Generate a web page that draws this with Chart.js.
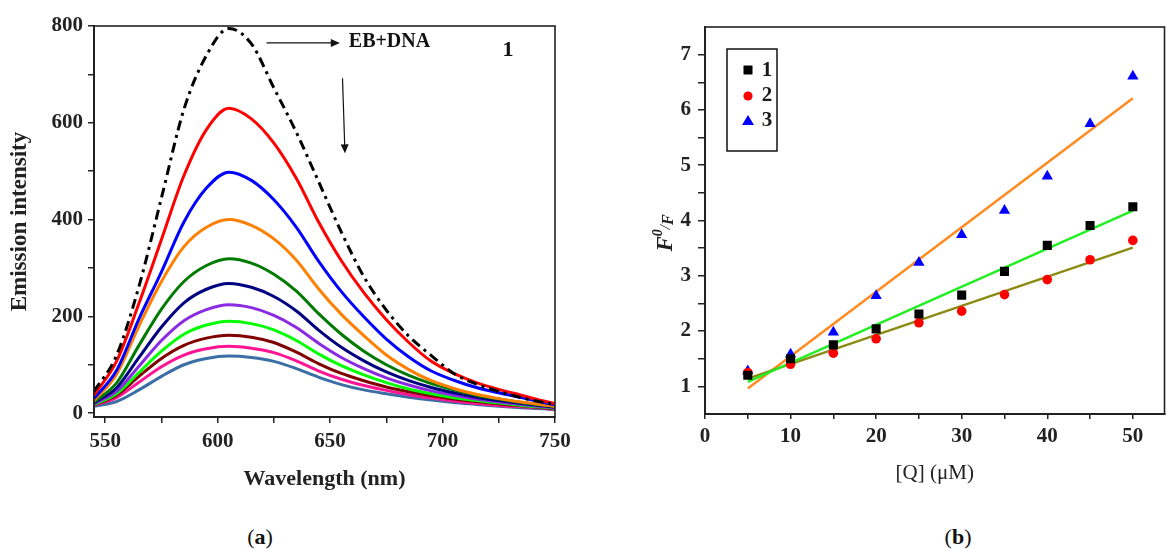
<!DOCTYPE html>
<html>
<head>
<meta charset="utf-8">
<script src="https://cdn.jsdelivr.net/npm/chart.js@4.4.1/dist/chart.umd.min.js"></script>
<style>
body { margin: 0; background: #fff; width: 1171px; height: 549px; overflow: hidden; position: relative; font-family: 'Liberation Serif', serif; }
#left { position: absolute; left: 0; top: 0; }
#right { position: absolute; left: 590px; top: 0; }
.cap { position: absolute; top: 524px; width: 60px; text-align: center; font-size: 22px; color: #111; }
</style>
</head>
<body>
<canvas id="left" width="580" height="500" style="width:580px;height:500px"></canvas>
<canvas id="right" width="581" height="500" style="width:581px;height:500px"></canvas>
<div class="cap" style="left:230px">(<b>a</b>)</div>
<div class="cap" style="left:928px">(<b>b</b>)</div>
<script>
// (a) emission spectra
const wavelength = [545,555,565,575,585,595,605,615,625,635,645,655,665,675,685,695,705,715,725,735,745,750]
const ebDna = [45,119,262,445,628,739,795,763,672,580,477,374,282,213,159,119,82,60,45,32,22,18]
const add1  = [37,107,227,359,491,586,630,608,558,485,394,315,249,193,146,107,82,63,49,37,25,20]
const add2  = [30,88,195,292,395,465,498,481,441,384,313,251,199,153,116,87,68,53,42,32,22,17]
const add3  = [26,80,180,272,344,384,400,388,360,316,256,204,160,120,90,67,51,39,30,23,17,14]
const add4  = [23,62,140,215,272,305,319,310,287,252,205,163,128,100,78,61,48,37,29,22,16,13]
const add5  = [21,52,115,178,228,256,268,260,241,211,171,136,108,85,67,53,42,33,26,20,15,12]
const add6  = [19,45,97,150,191,214,224,218,202,177,144,115,92,73,58,46,37,29,23,18,13,11]
const add7  = [18,40,84,128,163,182,190,185,172,150,122,98,79,63,50,40,32,26,21,16,12,10]
const add8  = [17,37,76,113,140,155,161,157,146,126,102,82,67,54,44,36,29,24,19,15,11,9]
const add9  = [16,32,64,96,120,133,138,134,125,108,87,70,57,47,38,31,25,20,16,13,10,8]
const add10 = [14,24,48,76,100,113,118,115,107,92,74,59,48,40,33,27,22,18,14,11,9,7]
const spectraColors = ['#000000','#ff0000','#0000ff','#ff8000','#007a00','#000080','#8a2be2','#00ff00','#800000','#ff1493','#3a6ea5']
const xTicksA = [550,575,600,625,650,675,700,725,750]
const yTicksA = [0,100,200,300,400,500,600,700,800]

// (b) Stern-Volmer plots
const conc = [5,10,15,20,25,30,35,40,45,50]
const ratio1 = [1.2,1.5,1.75,2.04,2.31,2.65,3.08,3.55,3.91,4.25]
const ratio2 = [1.25,1.4,1.6,1.86,2.15,2.36,2.66,2.93,3.29,3.64]
const ratio3 = [1.28,1.58,1.98,2.64,3.24,3.74,4.18,4.8,5.75,6.61]
const fitX = [5,50]
const fit1 = [1.08,4.18]
const fit2 = [1.14,3.51]
const fit3 = [0.96,6.21]
const xTicksB = [0,5,10,15,20,25,30,35,40,45,50]
const yTicksB = [1,1.5,2,2.5,3,3.5,4,4.5,5,5.5,6,6.5,7]

const serif = "'Liberation Serif', 'Times New Roman', serif"
const ink = '#222'

function pts(xs, ys) {
  return xs.map((x, i) => ({x: x, y: ys[i]}))
}

function setTicks(values) {
  return function (scale) { scale.ticks = values.map(v => ({value: v})) }
}

function arrow(c, x0, y0, x1, y1) {
  var ang = Math.atan2(y1 - y0, x1 - x0), h = 9, w = 4
  c.beginPath()
  c.moveTo(x0, y0)
  c.lineTo(x1 - h * 0.7 * Math.cos(ang), y1 - h * 0.7 * Math.sin(ang))
  c.stroke()
  c.beginPath()
  c.moveTo(x1, y1)
  c.lineTo(x1 - h * Math.cos(ang) + w * Math.sin(ang), y1 - h * Math.sin(ang) - w * Math.cos(ang))
  c.lineTo(x1 - h * Math.cos(ang) - w * Math.sin(ang), y1 - h * Math.sin(ang) + w * Math.cos(ang))
  c.closePath()
  c.fill()
}

const frame = {
  id: 'frame',
  afterDraw(chart) {
    var a = chart.chartArea, c = chart.ctx
    c.save()
    c.strokeStyle = ink
    c.lineWidth = 1.6
    c.strokeRect(a.left, a.top, a.right - a.left, a.bottom - a.top)
    c.restore()
  }
}

const notes = {
  id: 'notes',
  afterDraw(chart) {
    var x = chart.scales.x, y = chart.scales.y, c = chart.ctx
    c.save()
    c.strokeStyle = '#111'
    c.fillStyle = '#111'
    c.lineWidth = 1.2
    arrow(c, x.getPixelForValue(621.7), y.getPixelForValue(765), x.getPixelForValue(654.3), y.getPixelForValue(765))
    arrow(c, x.getPixelForValue(655.5), y.getPixelForValue(692), x.getPixelForValue(656.6), y.getPixelForValue(537))
    c.font = 'bold 20px ' + serif
    c.textBaseline = 'middle'
    c.textAlign = 'left'
    c.fillText('EB+DNA', x.getPixelForValue(658.3), y.getPixelForValue(767))
    c.textAlign = 'center'
    c.font = 'bold 22px ' + serif
    c.fillText('1', x.getPixelForValue(729.1), y.getPixelForValue(750))
    c.restore()
  }
}

const quench = {
  id: 'quench',
  afterDraw(chart) {
    var c = chart.ctx, a = chart.chartArea
    // y title F0/F
    var parts = [
      ['F', 'italic bold 23px ' + serif, 0],
      ['0', 'italic bold 14px ' + serif, -10],
      ['/', 'italic 15px ' + serif, -2],
      ['F', 'italic bold 16px ' + serif, 1]
    ]
    c.save()
    c.translate(74, 233)
    c.rotate(-Math.PI / 2)
    c.fillStyle = ink
    c.textBaseline = 'alphabetic'
    c.textAlign = 'left'
    var total = 0
    parts.forEach(p => { c.font = p[1]; total += c.measureText(p[0]).width })
    var px = -total / 2
    parts.forEach(p => {
      c.font = p[1]
      c.fillText(p[0], px, 8 + p[2])
      px += c.measureText(p[0]).width
    })
    c.restore()

    // legend box
    var bx = a.left + 22, by = a.top + 22
    c.save()
    c.strokeStyle = '#111'
    c.lineWidth = 1.5
    c.strokeRect(bx, by, 50, 102)
    c.font = 'bold 21px ' + serif
    c.textAlign = 'center'
    c.textBaseline = 'middle'
    var mx = bx + 21
    c.fillStyle = '#000'
    c.fillRect(mx - 4.5, by + 21 - 4.5, 9, 9)
    c.fillStyle = '#ff0000'
    c.beginPath(); c.arc(mx, by + 47, 4.6, 0, Math.PI * 2); c.fill()
    c.fillStyle = '#0000ff'
    c.beginPath(); c.moveTo(mx, by + 66); c.lineTo(mx + 6, by + 76); c.lineTo(mx - 6, by + 76); c.closePath(); c.fill()
    c.fillStyle = '#1a1a1a'
    c.fillText('1', bx + 40, by + 22)
    c.fillText('2', bx + 40, by + 47)
    c.fillText('3', bx + 40, by + 72)
    c.restore()
  }
}

const spectra = [ebDna, add1, add2, add3, add4, add5, add6, add7, add8, add9, add10]
const names = ['EB+DNA','1','2','3','4','5','6','7','8','9','10']

new Chart(document.getElementById('left'), {
  type: 'line',
  data: {
    datasets: spectra.map((vals, i) => ({
      label: names[i],
      data: pts(wavelength, vals),
      borderColor: spectraColors[i],
      borderWidth: 3,
      borderDash: i === 0 ? [10, 5, 3, 5] : [],
      cubicInterpolationMode: 'monotone',
      pointRadius: 0,
      fill: false
    }))
  },
  options: {
    responsive: false,
    animation: false,
    layout: { padding: { top: 26, right: 25, left: 0, bottom: 0 } },
    plugins: { legend: { display: false }, tooltip: { enabled: false } },
    scales: {
      x: {
        type: 'linear', min: 545, max: 750,
        afterBuildTicks: setTicks(xTicksA),
        afterFit: s => { s.height = 83 },
        ticks: { callback: v => v % 50 === 0 ? v : '', font: { family: serif, size: 21, weight: 'bold' }, color: ink, padding: 6, maxRotation: 0, autoSkip: false },
        grid: { drawOnChartArea: false, tickLength: 6, color: ink, lineWidth: 1.5 },
        border: { color: ink, width: 2 },
        title: { display: true, text: 'Wavelength (nm)', font: { family: serif, size: 22, weight: 'bold' }, color: ink, padding: { top: 0, bottom: 7 } }
      },
      y: {
        min: -8, max: 800,
        afterBuildTicks: setTicks(yTicksA),
        afterFit: s => { s.width = 94 },
        ticks: { callback: v => v % 200 === 0 ? v : '', font: { family: serif, size: 21, weight: 'bold' }, color: ink, padding: 5, autoSkip: false },
        grid: { drawOnChartArea: false, tickLength: 6, color: ink, lineWidth: 1.5 },
        border: { color: ink, width: 2 },
        title: { display: true, text: 'Emission intensity', font: { family: serif, size: 23, weight: 'bold' }, color: ink, padding: { top: 6, bottom: 0 } }
      }
    }
  },
  plugins: [frame, notes]
})

new Chart(document.getElementById('right'), {
  type: 'scatter',
  data: {
    datasets: [
      { label: '1', data: pts(conc, ratio1), pointStyle: 'rect', pointRadius: 6.4, backgroundColor: '#000', borderColor: '#000', borderWidth: 0 },
      { label: '2', data: pts(conc, ratio2), pointStyle: 'circle', pointRadius: 4.8, backgroundColor: '#ff0000', borderColor: '#ff0000', borderWidth: 0 },
      { label: '3', data: pts(conc, ratio3), pointStyle: 'triangle', pointRadius: 6.5, backgroundColor: '#0000ff', borderColor: '#0000ff', borderWidth: 0 },
      { label: 'fit 1', data: pts(fitX, fit1), showLine: true, borderColor: '#22ee22', borderWidth: 2.5, pointRadius: 0 },
      { label: 'fit 2', data: pts(fitX, fit2), showLine: true, borderColor: '#8b8b14', borderWidth: 2.5, pointRadius: 0 },
      { label: 'fit 3', data: pts(fitX, fit3), showLine: true, borderColor: '#ff8a1f', borderWidth: 2.5, pointRadius: 0 }
    ]
  },
  options: {
    responsive: false,
    animation: false,
    layout: { padding: { top: 27, right: 0, left: 0, bottom: 0 } },
    plugins: { legend: { display: false }, tooltip: { enabled: false } },
    scales: {
      x: {
        type: 'linear', min: 0, max: 53.7,
        afterBuildTicks: setTicks(xTicksB),
        afterFit: s => { s.height = 86 },
        ticks: { callback: v => v % 10 === 0 ? v : '', font: { family: serif, size: 21, weight: 'bold' }, color: ink, padding: 5, maxRotation: 0, autoSkip: false },
        grid: { drawOnChartArea: false, tickLength: 5, color: ink, lineWidth: 1.5 },
        border: { color: ink, width: 2 },
        title: { display: true, text: '[Q] (μM)', font: { family: serif, size: 21 }, color: ink, padding: { top: 0, bottom: 14 } }
      },
      y: {
        min: 0.5, max: 7.5,
        afterBuildTicks: setTicks(yTicksB),
        afterFit: s => { s.width = 115 },
        ticks: { callback: v => Number.isInteger(v) ? v : '', font: { family: serif, size: 21, weight: 'bold' }, color: ink, padding: 7, autoSkip: false },
        grid: { drawOnChartArea: false, tickLength: 7, color: ink, lineWidth: 1.5 },
        border: { color: ink, width: 2 }
      }
    }
  },
  plugins: [frame, quench]
})
</script>
</body>
</html>
